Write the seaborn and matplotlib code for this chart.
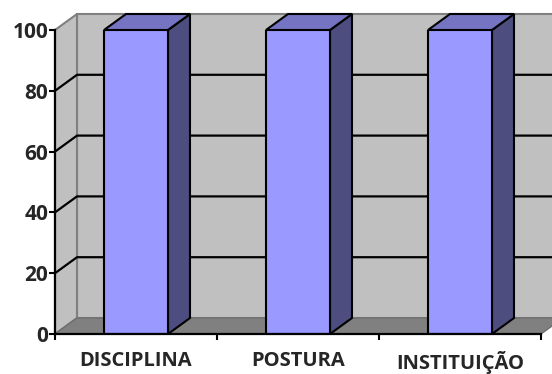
import numpy as np
import pandas as pd
import seaborn as sns
import matplotlib.pyplot as plt
from matplotlib.patches import Polygon

# data
categories = ['DISCIPLINA', 'POSTURA', 'INSTITUIÇÃO']
values = [100, 100, 100]
y_ticks = [0, 20, 40, 60, 80, 100]

df = pd.DataFrame({'categoria': categories, 'valor': values})

sns.set_style('white')
plt.rcParams['font.family'] = ['Open Sans', 'DejaVu Sans']

fig = plt.figure(figsize=(5.52, 3.74), dpi=100)
ax = fig.add_axes([55 / 552, 40 / 374, 486 / 552, 304 / 374])
ax.set_facecolor('none')

bar_w = 0.395
sns.barplot(data=df, x='categoria', y='valor', color='#9999FF', saturation=1,
            width=bar_w, edgecolor='black', linewidth=1.5, ax=ax, zorder=5)
ax.set_xlim(-0.5, 2.5)
ax.set_ylim(0, 100)

# depth of the fake 3D box, about 22 px right and 16 px up
dx = 22 / (486 / 3)
dy = 16 / (304 / 100)
x0, x1 = -0.5, 2.5

# walls and floor
back = Polygon([(x0 + dx, dy), (x1 + dx, dy), (x1 + dx, 100 + dy), (x0 + dx, 100 + dy)],
               closed=True, facecolor='#C0C0C0', edgecolor='#808080', lw=1.5,
               clip_on=False, zorder=0)
side = Polygon([(x0, 0), (x0 + dx, dy), (x0 + dx, 100 + dy), (x0, 100)],
               closed=True, facecolor='#C0C0C0', edgecolor='#808080', lw=1.5,
               clip_on=False, zorder=0.5)
floor = Polygon([(x0, 0), (x1, 0), (x1 + dx, dy), (x0 + dx, dy)],
                closed=True, facecolor='#808080', edgecolor='#6E6E6E', lw=1,
                clip_on=False, zorder=0.6)
for p in (back, side, floor):
    ax.add_patch(p)

# gridlines on the left wall and the back wall
for v in y_ticks[1:-1]:
    ax.plot([x0, x0 + dx, x1 + dx], [v, v + dy, v + dy], color='black', lw=1.6,
            clip_on=False, zorder=1, solid_capstyle='butt')

# top and side faces of each bar
for i, v in enumerate(values):
    a, b = i - bar_w / 2, i + bar_w / 2
    top = Polygon([(a, v), (b, v), (b + dx, v + dy), (a + dx, v + dy)], closed=True,
                  facecolor='#7474C2', edgecolor='black', lw=1.5, clip_on=False, zorder=4)
    rside = Polygon([(b, 0), (b + dx, dy), (b + dx, v + dy), (b, v)], closed=True,
                    facecolor='#4D4D80', edgecolor='black', lw=1.5, clip_on=False, zorder=4)
    ax.add_patch(rside)
    ax.add_patch(top)

# axes look
for s in ('top', 'right'):
    ax.spines[s].set_visible(False)
for s in ('left', 'bottom'):
    ax.spines[s].set_color('black')
    ax.spines[s].set_linewidth(1.6)
    ax.spines[s].set_zorder(6)

ax.set_yticks(y_ticks)
ax.set_yticklabels([str(t) for t in y_ticks], fontweight='bold', fontsize=15)
ax.tick_params(axis='y', direction='out', length=4, width=1.5, color='black', pad=1, left=True)
ax.set_xticks(range(len(categories)))
ax.set_xticklabels(categories, fontweight='bold', fontsize=14.5)
ax.set_xticks([-0.5, 0.5, 1.5, 2.5], minor=True)
ax.tick_params(axis='x', which='major', length=0, pad=12)
ax.tick_params(axis='x', which='minor', direction='out', length=4, width=1.5, color='black', bottom=True)
ax.set_xlabel('')
ax.set_ylabel('')

fig.savefig('out.png', dpi=100)
